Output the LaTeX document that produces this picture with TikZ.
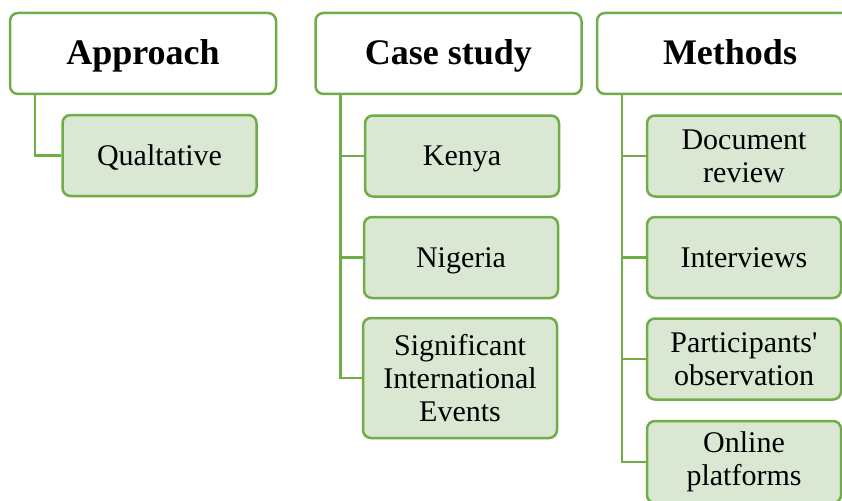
\documentclass[tikz,border=0pt]{standalone}
\usepackage{fontspec}
\setmainfont{Liberation Serif}
\usetikzlibrary{positioning}

\definecolor{boxgreen}{RGB}{112,173,71}
\definecolor{leafgreen}{RGB}{218,231,211}

\begin{document}
\begin{tikzpicture}[
    x=1pt, y=-1pt,
    heading/.style={rectangle, rounded corners=8pt, draw=boxgreen, line width=2.5pt, fill=white,
        minimum width=266pt, minimum height=81pt, inner sep=0pt, text height=30pt, text depth=8pt,
        font=\fontsize{36}{40}\selectfont\bfseries},
    leaf/.style={rectangle, rounded corners=8pt, draw=boxgreen, line width=2.5pt, fill=leafgreen,
        minimum width=194pt, minimum height=81pt, inner sep=0pt, align=center, font=\fontsize{30}{33}\selectfont},
    oneline/.style={leaf, text height=26pt, text depth=7pt},
    branch/.style={draw=boxgreen, line width=2.5pt}
]
\useasboundingbox (0,0) rectangle (842,500);

% Define headings
\node[heading] (approach) at (143,53.5) {Approach};
\node[heading] (casestudy) at (448.5,53.5) {Case study};
\node[heading] (methods) at (730,53.5) {Methods};

% Define leaves
\node[oneline] (qual) at (159.5,155.5) {Qualtative};
\node[oneline] (kenya) at (462,156) {Kenya};
\node[oneline] (nigeria) at (461,257.5) {Nigeria};
\node[leaf, minimum height=120pt] (events) at (460,378) {Significant\\International\\Events};
\node[leaf] (docs) at (744,156) {Document\\review};
\node[oneline] (interviews) at (744,257.5) {Interviews};
\node[leaf] (observation) at (744,359) {Participants\textquotesingle\\observation};
\node[leaf, minimum height=82pt] (online) at (744,462) {Online\\platforms};

% Draw branches
\foreach \u/\v in {approach/qual, casestudy/kenya, casestudy/nigeria, casestudy/events,
                   methods/docs, methods/interviews, methods/observation, methods/online} {
    \draw[branch] ([xshift=26pt]\u.south west) |- (\v.west);
}

\end{tikzpicture}
\end{document}
